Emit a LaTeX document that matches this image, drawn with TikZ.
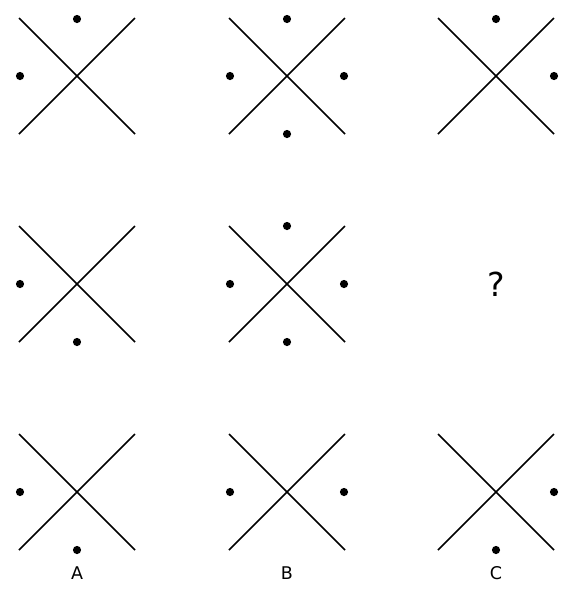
\documentclass[tikz,border=0pt]{standalone}
\usepackage{fontspec}
\newfontfamily\labelfont{DejaVu Sans}
\tikzset{
  xline/.style={line width=1.5pt, black},
  dotmark/.style={circle, fill=black, inner sep=0pt, minimum size=8.2pt},
  lbl/.style={font=\labelfont\fontsize{17.5}{17.5}\selectfont, inner sep=0pt},
  qmark/.style={font=\labelfont\fontsize{33}{33}\selectfont, inner sep=0pt},
}
\newcommand{\xcross}[3]{% name, x, y
  \coordinate (#1) at (#2,-#3);
  \draw[xline] ($(#1)+(-58,58)$) -- ($(#1)+(58,-58)$);
  \draw[xline] ($(#1)+(-58,-58)$) -- ($(#1)+(58,58)$);
}
\usetikzlibrary{calc}
\begin{document}
\begin{tikzpicture}[x=1pt,y=1pt]
\useasboundingbox (0,0) rectangle (573,-590);
% row 1
\xcross{c11}{77}{76}
\xcross{c12}{287}{76}
\xcross{c13}{496}{76}
% row 2
\xcross{c21}{77}{284}
\xcross{c22}{287}{284}
\coordinate (c23) at (496,-284);
% row 3
\xcross{c31}{77}{492}
\xcross{c32}{287}{492}
\xcross{c33}{496}{492}
% dots
\node[dotmark] (c11t) at ($(c11)+(0,57)$) {};
\node[dotmark] (c11l) at ($(c11)+(-57,0)$) {};
\node[dotmark] (c12t) at ($(c12)+(0,57)$) {};
\node[dotmark] (c12l) at ($(c12)+(-57,0)$) {};
\node[dotmark] (c12r) at ($(c12)+(57,0)$) {};
\node[dotmark] (c12b) at ($(c12)+(0,-58)$) {};
\node[dotmark] (c13t) at ($(c13)+(0,57)$) {};
\node[dotmark] (c13r) at ($(c13)+(58,0)$) {};
\node[dotmark] (c21l) at ($(c21)+(-57,0)$) {};
\node[dotmark] (c21b) at ($(c21)+(0,-58)$) {};
\node[dotmark] (c22t) at ($(c22)+(0,58)$) {};
\node[dotmark] (c22l) at ($(c22)+(-57,0)$) {};
\node[dotmark] (c22r) at ($(c22)+(57,0)$) {};
\node[dotmark] (c22b) at ($(c22)+(0,-58)$) {};
\node[qmark] (q) at (c23) {?};
\node[dotmark] (c31l) at ($(c31)+(-57,0)$) {};
\node[dotmark] (c31b) at ($(c31)+(0,-58)$) {};
\node[dotmark] (c32l) at ($(c32)+(-57,0)$) {};
\node[dotmark] (c32r) at ($(c32)+(57,0)$) {};
\node[dotmark] (c33r) at ($(c33)+(58,0)$) {};
\node[dotmark] (c33b) at ($(c33)+(0,-58)$) {};
% labels
\node[lbl] (la) at (77,-573) {A};
\node[lbl] (lb) at (287,-573) {B};
\node[lbl] (lc) at (496,-573) {C};
\end{tikzpicture}
\end{document}
